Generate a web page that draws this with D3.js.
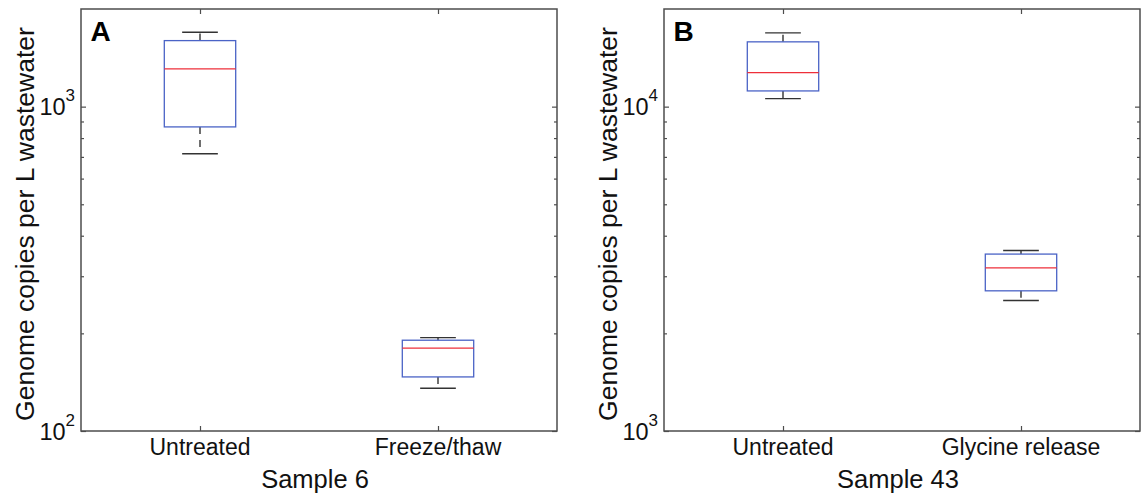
<!DOCTYPE html>
<html>
<head>
<meta charset="utf-8">
<script src="https://cdn.jsdelivr.net/npm/d3@7"></script>
<style>
  html, body { margin: 0; padding: 0; background: #fff; }
  svg { display: block; font-family: Arial, "Liberation Sans", Helvetica, sans-serif; }
</style>
</head>
<body>
<svg id="chart" width="1146" height="495"></svg>
<script>
// ── Data ────────────────────────────────────────────────────────────────────
// Box stats per group: [whisker low, Q1, median, Q3, whisker high]
const categoriesA = ['Untreated', 'Freeze/thaw'];
const statsA = [
  [716, 866, 1307, 1598, 1696],
  [135.5, 146.8, 180, 190.5, 194]
];
const yDomainA = [100, 2000];
const yMajorA = [100, 1000];

const categoriesB = ['Untreated', 'Glycine release'];
const statsB = [
  [10585, 11180, 12735, 15840, 16887],
  [2525, 2705, 3185, 3511, 3602]
];
const yDomainB = [1000, 20000];
const yMajorB = [1000, 10000];

const panels = [
  { tag: 'A', xLabel: 'Sample 6',  cats: categoriesA, stats: statsA, dom: yDomainA, major: yMajorA, left: 81 },
  { tag: 'B', xLabel: 'Sample 43', cats: categoriesB, stats: statsB, dom: yDomainB, major: yMajorB, left: 664 }
];

const W = 476, H = 422, TOP = 9;
const frameColor = '#4d4d4d';
const boxColor = '#4a63c6';
const medColor = '#ee2f3a';
const whiskColor = '#333';

const svg = d3.select('#chart');

// minor log ticks 2..9 × 10^n inside the domain
function minorTicks(dom) {
  const out = [];
  for (let e = Math.floor(Math.log10(dom[0])); e <= Math.ceil(Math.log10(dom[1])); e++) {
    for (let m = 2; m <= 9; m++) {
      const v = m * Math.pow(10, e);
      if (v > dom[0] && v < dom[1]) out.push(v);
    }
  }
  return out;
}

panels.forEach(p => {
  const g = svg.append('g').attr('transform', `translate(${p.left},${TOP})`);

  const x = d3.scalePoint().domain(p.cats).range([0, W]).padding(0.5);
  const y = d3.scaleLog().domain(p.dom).range([H, 0]);
  const step = x.step();
  const boxW = step * 0.3, capW = step * 0.15;

  // Frame ticks (all pointing inward, mirrored on every side)
  const tickAxis = (axis, tr) => {
    const a = g.append('g').attr('transform', tr).call(axis);
    a.select('.domain').remove();
    a.selectAll('line').attr('stroke', frameColor).attr('stroke-width', 1.2);
    return a;
  };
  tickAxis(d3.axisRight(y).tickValues(p.major).tickSize(5).tickFormat(''), 'translate(0,0)');
  tickAxis(d3.axisRight(y).tickValues(minorTicks(p.dom)).tickSize(3).tickFormat(''), 'translate(0,0)');
  tickAxis(d3.axisLeft(y).tickValues(p.major).tickSize(5).tickFormat(''), `translate(${W},0)`);
  tickAxis(d3.axisLeft(y).tickValues(minorTicks(p.dom)).tickSize(3).tickFormat(''), `translate(${W},0)`);
  tickAxis(d3.axisTop(x).tickSize(5).tickFormat(''), `translate(0,${H})`);
  tickAxis(d3.axisBottom(x).tickSize(5).tickFormat(''), 'translate(0,0)');

  g.append('rect')
    .attr('width', W).attr('height', H)
    .attr('fill', 'none').attr('stroke', frameColor).attr('stroke-width', 1.5);

  // y tick labels as 10^n
  p.major.forEach(v => {
    const t = g.append('text')
      .attr('x', -6).attr('y', y(v) + 8.5)
      .attr('text-anchor', 'end').attr('fill', '#111').attr('font-size', 23.5);
    t.append('tspan').text('10');
    t.append('tspan').attr('dy', -14).attr('font-size', 17).text(Math.round(Math.log10(v)));
  });

  // x tick labels
  g.selectAll('.xlab').data(p.cats).enter().append('text')
    .attr('x', d => x(d)).attr('y', H + 24)
    .attr('text-anchor', 'middle').attr('fill', '#111').attr('font-size', 23)
    .text(d => d);

  // axis labels
  g.append('text')
    .attr('x', W / 2 - 4).attr('y', H + 57)
    .attr('text-anchor', 'middle').attr('fill', '#111').attr('font-size', 25.5)
    .text(p.xLabel);
  g.append('text')
    .attr('transform', `translate(-47.5,${H / 2 + 4}) rotate(-90)`)
    .attr('text-anchor', 'middle').attr('fill', '#111').attr('font-size', 26.5)
    .text('Genome copies per L wastewater');

  // panel tag
  g.append('text')
    .attr('x', 9.5).attr('y', 32)
    .attr('fill', '#000').attr('font-size', 28).attr('font-weight', 'bold')
    .text(p.tag);

  // boxes
  const bx = g.selectAll('.box').data(p.stats).enter().append('g')
    .attr('transform', (d, i) => `translate(${x(p.cats[i])},0)`);

  // whisker stems (dashed)
  bx.append('line')
    .attr('x1', 0).attr('x2', 0)
    .attr('y1', d => y(d[3])).attr('y2', d => y(d[4]))
    .attr('stroke', whiskColor).attr('stroke-width', 1.4).attr('stroke-dasharray', '7,6');
  bx.append('line')
    .attr('x1', 0).attr('x2', 0)
    .attr('y1', d => y(d[1])).attr('y2', d => y(d[0]))
    .attr('stroke', whiskColor).attr('stroke-width', 1.4).attr('stroke-dasharray', '7,6');
  // caps
  [0, 4].forEach(k => {
    bx.append('line')
      .attr('x1', -capW / 2).attr('x2', capW / 2)
      .attr('y1', d => y(d[k])).attr('y2', d => y(d[k]))
      .attr('stroke', whiskColor).attr('stroke-width', 1.4);
  });
  // box
  bx.append('rect')
    .attr('x', -boxW / 2).attr('width', boxW)
    .attr('y', d => y(d[3])).attr('height', d => y(d[1]) - y(d[3]))
    .attr('fill', 'none').attr('stroke', boxColor).attr('stroke-width', 1.3);
  // median
  bx.append('line')
    .attr('x1', -boxW / 2).attr('x2', boxW / 2)
    .attr('y1', d => y(d[2])).attr('y2', d => y(d[2]))
    .attr('stroke', medColor).attr('stroke-width', 1.3);
});
</script>
</body>
</html>
